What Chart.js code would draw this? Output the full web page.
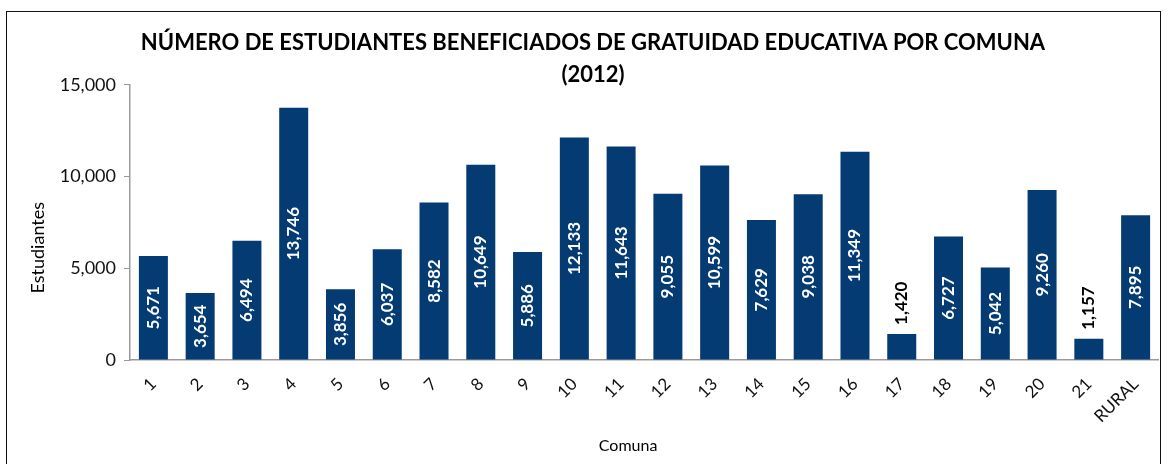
<!DOCTYPE html>
<html>
<head>
<meta charset="utf-8">
<script src="https://cdn.jsdelivr.net/npm/chart.js@4/dist/chart.umd.min.js"></script>
<style>
  body { margin: 0; background: #fff; width: 1169px; height: 464px; overflow: hidden; }
  #wrap { position: absolute; left: 6px; top: 11px; width: 1153px; height: 470px; border: 1.5px solid #111; }
  canvas { display: block; }
</style>
</head>
<body>
<div id="wrap"><canvas id="chart" width="1152" height="451"></canvas></div>
<script>
const comunas = ["1","2","3","4","5","6","7","8","9","10","11","12","13","14","15","16","17","18","19","20","21","RURAL"];
const estudiantes = [5671, 3654, 6494, 13746, 3856, 6037, 8582, 10649, 5886, 12133, 11643, 9055, 10599, 7629, 9038, 11349, 1420, 6727, 5042, 9260, 1157, 7895];
const yTicks = [0, 5000, 10000, 15000];

const fontFamily = "Lato, 'Open Sans', sans-serif";
const barColor = "#033b72";

// values written on the bars (inside when they fit, above otherwise)
const barLabels = {
  id: "barLabels",
  afterDatasetsDraw(chart) {
    const ctx = chart.ctx;
    const meta = chart.getDatasetMeta(0);
    meta.data.forEach((bar, i) => {
      const text = estudiantes[i].toLocaleString("en-US");
      ctx.save();
      ctx.font = "bold 17px " + fontFamily;
      const w = ctx.measureText(text).width;
      const h = bar.base - bar.y;
      if (w + 10 < h) {
        ctx.translate(bar.x, (bar.y + bar.base) / 2);
        ctx.rotate(-Math.PI / 2);
        ctx.textAlign = "center";
        ctx.textBaseline = "middle";
        ctx.fillStyle = "#fff";
      } else {
        ctx.translate(bar.x, bar.y - 9);
        ctx.rotate(-Math.PI / 2);
        ctx.textAlign = "left";
        ctx.textBaseline = "middle";
        ctx.fillStyle = "#000";
      }
      ctx.fillText(text, 0, 0);
      ctx.restore();
    });
  }
};

new Chart(document.getElementById("chart"), {
  type: "bar",
  data: {
    labels: comunas,
    datasets: [{
      data: estudiantes,
      backgroundColor: barColor,
      barPercentage: 0.62,
      categoryPercentage: 1
    }]
  },
  options: {
    responsive: false,
    animation: false,
    layout: { padding: { left: 20, right: 0, top: 0, bottom: 0 } },
    plugins: {
      legend: { display: false },
      tooltip: { enabled: false },
      title: {
        display: true,
        text: ["NÚMERO DE ESTUDIANTES BENEFICIADOS DE GRATUIDAD EDUCATIVA POR COMUNA", "(2012)"],
        color: "#000",
        font: { family: fontFamily, size: 22, weight: "bold", lineHeight: 1.45 },
        padding: { top: 15, bottom: -6 }
      }
    },
    scales: {
      x: {
        grid: { display: false },
        border: { display: true, color: "#999", width: 1.5 },
        ticks: {
          color: "#111",
          font: { family: fontFamily, size: 17 },
          minRotation: 45,
          maxRotation: 45,
          padding: 6
        },
        title: {
          display: true,
          // trailing spaces move the label a bit to the left, as in the original
          text: "Comuna" + "\u00a0".repeat(8),
          color: "#000",
          font: { family: fontFamily, size: 16 },
          padding: { top: 0, bottom: 8 }
        },
        afterFit(scale) { scale.height = 103; }
      },
      y: {
        min: 0,
        max: 15000,
        grid: { display: true, drawOnChartArea: false, drawTicks: true, tickLength: 6, color: "#999" },
        border: { display: true, color: "#999", width: 1.5 },
        ticks: {
          stepSize: 5000,
          color: "#111",
          font: { family: fontFamily, size: 18 },
          padding: 8,
          callback: (v) => yTicks.includes(v) ? v.toLocaleString("en-US") : ""
        },
        title: {
          display: true,
          // trailing spaces push the label a little lower, as in the original
          text: "Estudiantes" + "\u00a0".repeat(11),
          color: "#000",
          font: { family: fontFamily, size: 18 },
          padding: 0
        },
        afterFit(scale) { scale.width = 103; }
      }
    }
  },
  plugins: [barLabels]
});
</script>
</body>
</html>
